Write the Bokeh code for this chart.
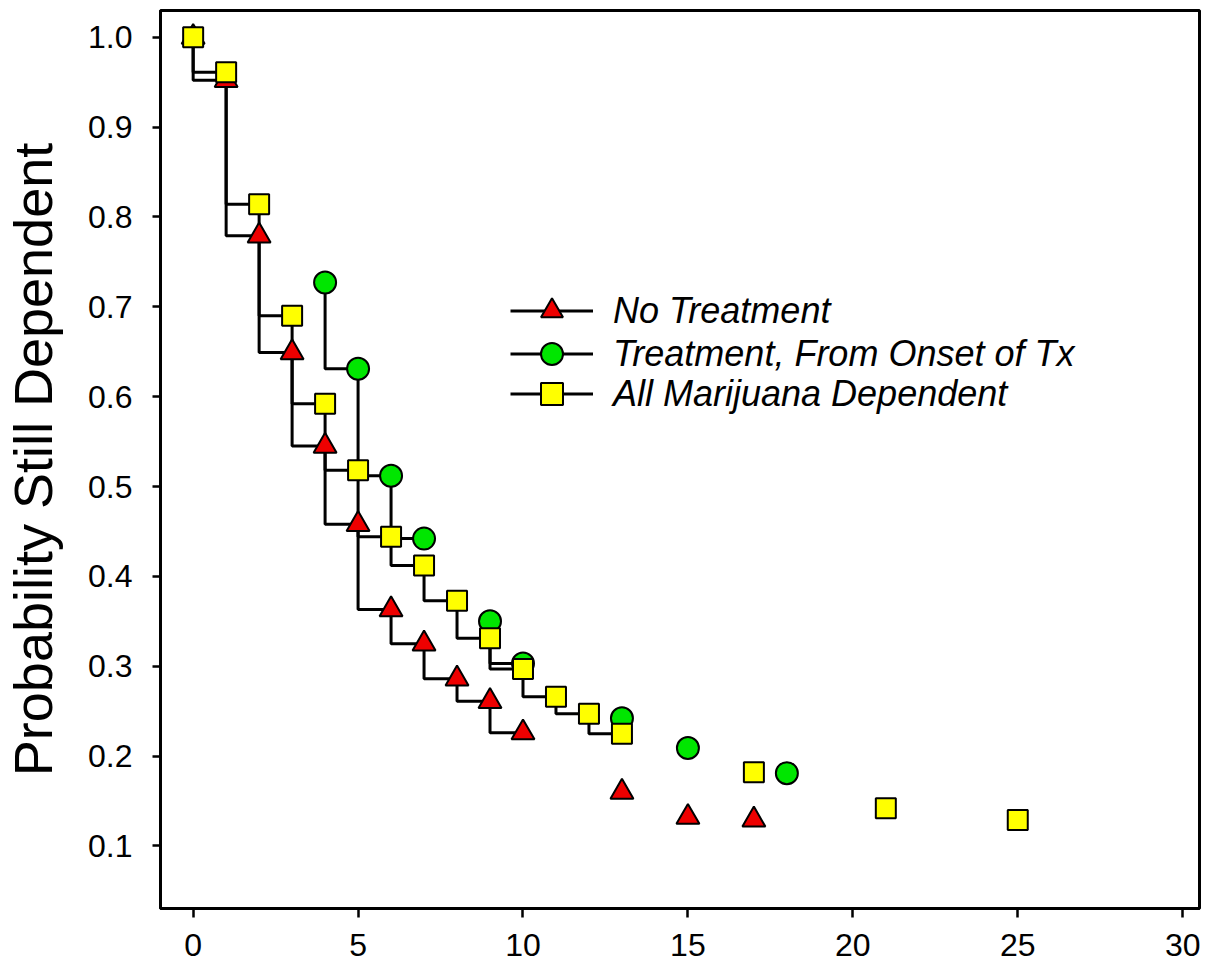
from bokeh.plotting import figure
from bokeh.models import Range1d, FixedTicker, Legend, LegendItem, PrintfTickFormatter
from bokeh.embed import file_html
from bokeh.resources import INLINE

# ---- data ----
months_none = [0, 1, 2, 3, 4, 5, 6, 7, 8, 9, 10, 13, 15, 17]
surv_none = [1.0, 0.952, 0.779, 0.649, 0.545, 0.458, 0.363, 0.325, 0.286, 0.261, 0.226, 0.160, 0.132, 0.129]

months_tx = [4, 5, 6, 7, 9, 10, 13, 15, 18]
surv_tx = [0.727, 0.631, 0.512, 0.442, 0.350, 0.303, 0.242, 0.209, 0.181]

months_all = [0, 1, 2, 3, 4, 5, 6, 7, 8, 9, 10, 11, 12, 13, 17, 21, 25]
surv_all = [1.0, 0.961, 0.814, 0.690, 0.592, 0.518, 0.444, 0.412, 0.373, 0.331, 0.297, 0.266, 0.247, 0.225, 0.182, 0.142, 0.129]

series_names = ["No Treatment", "Treatment, From Onset of Tx", "All Marijuana Dependent"]
x_ticks = [0, 5, 10, 15, 20, 25, 30]
y_ticks = [0.1, 0.2, 0.3, 0.4, 0.5, 0.6, 0.7, 0.8, 0.9, 1.0]

FONT = "Liberation Sans"

p = figure(width=1207, height=970, output_backend="svg", toolbar_location=None,
           x_range=Range1d(-0.99, 30.51), y_range=Range1d(0.0304, 1.0297),
           min_border_left=159, min_border_right=8, min_border_top=10, min_border_bottom=62)

p.xgrid.visible = False
p.ygrid.visible = False
p.outline_line_color = "black"
p.outline_line_width = 3
p.background_fill_color = "white"
p.border_fill_color = "white"

for ax in (p.xaxis[0], p.yaxis[0]):
    ax.axis_line_width = 3
    ax.axis_line_color = "black"
    ax.major_tick_line_width = 2.5
    ax.major_tick_line_color = "black"
    ax.major_tick_in = 0
    ax.minor_tick_line_color = None
    ax.major_label_text_font = FONT
    ax.major_label_text_font_size = "32px"
    ax.major_label_text_color = "black"

p.xaxis.ticker = FixedTicker(ticks=x_ticks)
p.xaxis.major_tick_out = 9
p.xaxis.major_label_standoff = 16

p.yaxis.ticker = FixedTicker(ticks=y_ticks)
p.yaxis.formatter = PrintfTickFormatter(format="%.1f")
p.yaxis.major_tick_out = 8
p.yaxis.major_label_standoff = 20
p.yaxis.axis_label = "Probability Still Dependent"
p.yaxis.axis_label_text_font = FONT
p.yaxis.axis_label_text_font_size = "54px"
p.yaxis.axis_label_text_font_style = "normal"
p.yaxis.axis_label_text_color = "black"
p.yaxis.axis_label_standoff = 22


def runs(xs, ys):
    """Split a series into runs of consecutive months (steps are drawn only there)."""
    out = []
    cur_x, cur_y = [xs[0]], [ys[0]]
    for i in range(1, len(xs)):
        if xs[i] - xs[i - 1] == 1:
            cur_x.append(xs[i])
            cur_y.append(ys[i])
        else:
            out.append((cur_x, cur_y))
            cur_x, cur_y = [xs[i]], [ys[i]]
    out.append((cur_x, cur_y))
    return [r for r in out if len(r[0]) > 1]


styles = [
    (months_none, surv_none, "triangle", "#EE0000", 23),
    (months_tx, surv_tx, "circle", "#00E600", 22),
    (months_all, surv_all, "square", "#FFFF00", 20),
]

line_renderers = []
scatter_renderers = []
for (xs, ys, marker, color, size) in styles:
    lr = None
    for rx, ry in runs(xs, ys):
        r = p.step(rx, ry, mode="before", line_color="black", line_width=3)
        if lr is None:
            lr = r
    line_renderers.append(lr)

for (xs, ys, marker, color, size) in styles:
    sr = p.scatter(xs, ys, marker=marker, size=size, fill_color=color,
                   line_color="black", line_width=2)
    scatter_renderers.append(sr)

# one legend box per entry so that the row pitch can be set freely
legend_bottoms = [570, 527, 487]
for name, lr, sr, vy in zip(series_names, line_renderers, scatter_renderers, legend_bottoms):
    lg = Legend(items=[LegendItem(label=name, renderers=[lr, sr])],
                location=(350, vy), orientation="vertical",
                glyph_width=83, glyph_height=55, label_height=30, spacing=0,
                padding=0, margin=0, label_standoff=20,
                border_line_color=None, background_fill_alpha=0,
                label_text_font=FONT, label_text_font_size="36px",
                label_text_font_style="italic", label_text_color="black")
    p.add_layout(lg)

open("out.html", "w").write(file_html(p, INLINE))
